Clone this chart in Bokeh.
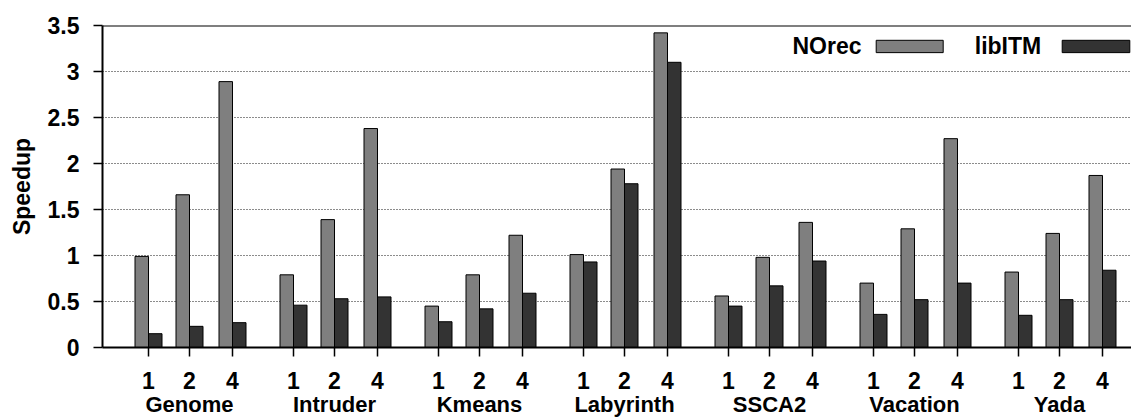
from bokeh.plotting import figure
from bokeh.models import (ColumnDataSource, FixedTicker, LinearAxis, Range1d, Span,
                          NumeralTickFormatter)
from bokeh.core.properties import value
from bokeh.embed import file_html
from bokeh.resources import INLINE

# ---------------- data ----------------
benchmarks = ["Genome", "Intruder", "Kmeans", "Labyrinth", "SSCA2", "Vacation", "Yada"]
threads = [1, 2, 4]
norec = [0.99, 1.66, 2.89,
         0.79, 1.39, 2.38,
         0.45, 0.79, 1.22,
         1.01, 1.94, 3.42,
         0.56, 0.98, 1.36,
         0.70, 1.29, 2.27,
         0.82, 1.24, 1.87]
libitm = [0.15, 0.23, 0.27,
          0.46, 0.53, 0.55,
          0.28, 0.42, 0.59,
          0.93, 1.78, 3.10,
          0.45, 0.67, 0.94,
          0.36, 0.52, 0.70,
          0.35, 0.52, 0.84]
series_names = ["NOrec", "libITM"]
series_colors = ["#7f7f7f", "#333333"]
y_ticks = [0, 0.5, 1, 1.5, 2, 2.5, 3, 3.5]
y_tick_labels = ["0", "0.5", "1", "1.5", "2", "2.5", "3", "3.5"]

# ---------------- layout ----------------
FONT = "Liberation Sans"
FS = "23px"
GROUP_FS = "22px"
GROUP_PITCH = 145
THREAD_OFFSETS = {1: 0, 2: 41, 4: 84}
BAR_W = 13.5

xs = [gi * GROUP_PITCH + THREAD_OFFSETS[t] for gi in range(len(benchmarks)) for t in threads]
tick_labels = {x: str(t) for x, t in zip(xs, threads * len(benchmarks))}
group_centers = [gi * GROUP_PITCH + THREAD_OFFSETS[2] for gi in range(len(benchmarks))]

src = ColumnDataSource(dict(
    x_a=[x - BAR_W / 2 for x in xs],
    x_b=[x + BAR_W / 2 for x in xs],
    norec=norec, libitm=libitm,
))

p = figure(width=1131, height=427, output_backend="svg", toolbar_location=None,
           x_range=Range1d(-46, 983), y_range=Range1d(0, 3.5),
           min_border_left=102, min_border_right=0, min_border_top=25,
           min_border_bottom=80)
p.outline_line_color = None
p.background_fill_color = "white"
p.border_fill_color = "white"

p.vbar(x="x_a", top="norec", width=BAR_W, bottom=0, source=src,
       fill_color=series_colors[0], line_color="black", line_width=1)
p.vbar(x="x_b", top="libitm", width=BAR_W, bottom=0, source=src,
       fill_color=series_colors[1], line_color="black", line_width=1)

# grid
p.xgrid.visible = False
p.ygrid.ticker = FixedTicker(ticks=y_ticks)
p.ygrid.grid_line_color = "black"
p.ygrid.grid_line_dash = "1 2"
p.ygrid.grid_line_width = 1
p.ygrid.grid_line_alpha = 0.9

# top border
p.add_layout(Span(location=3.5, dimension="width", line_color="black", line_width=2))

# y axis
ya = p.yaxis[0]
ya.ticker = FixedTicker(ticks=y_ticks)
ya.formatter = NumeralTickFormatter(format="0.[0]")
ya.major_label_overrides = {t: l for t, l in zip(y_ticks, y_tick_labels)}
ya.minor_tick_line_color = None
ya.major_tick_in = 0
ya.major_tick_out = 9
ya.major_tick_line_width = 1.5
ya.axis_line_width = 2
ya.axis_line_color = "black"
ya.major_label_standoff = 14
ya.major_label_text_font = FONT
ya.major_label_text_font_style = "bold"
ya.major_label_text_font_size = FS
ya.major_label_text_color = "black"
ya.axis_label = "Speedup"
ya.axis_label_text_font = FONT
ya.axis_label_text_font_style = "bold"
ya.axis_label_text_font_size = FS
ya.axis_label_text_color = "black"
ya.axis_label_standoff = 10

# x axis (thread counts)
xa = p.xaxis[0]
xa.ticker = FixedTicker(ticks=xs)
xa.major_label_overrides = tick_labels
xa.minor_tick_line_color = None
xa.major_tick_in = 0
xa.major_tick_out = 9
xa.major_tick_line_width = 1.5
xa.axis_line_width = 2
xa.axis_line_color = "black"
xa.major_label_standoff = 15
xa.major_label_text_font = FONT
xa.major_label_text_font_style = "bold"
xa.major_label_text_font_size = FS
xa.major_label_text_color = "black"

# x axis (benchmark names)
ga = LinearAxis(ticker=FixedTicker(ticks=group_centers),
                major_label_overrides={c: b for c, b in zip(group_centers, benchmarks)})
ga.axis_line_color = None
ga.major_tick_line_color = None
ga.minor_tick_line_color = None
ga.major_tick_in = 0
ga.major_tick_out = 0
ga.major_label_standoff = 0
ga.major_label_text_font = FONT
ga.major_label_text_font_style = "bold"
ga.major_label_text_font_size = GROUP_FS
ga.major_label_text_color = "black"
p.add_layout(ga, "below")

# legend (label first, then swatch) -- positions in axis units
leg_y = 3.272
leg_h = 0.134
leg_text_right = [713, 892.7]
leg_sw_left = [727.7, 913.7]
leg_sw_right = [794.7, 981.3]
p.text(x=leg_text_right, y=[leg_y, leg_y], text=series_names,
       text_font=value(FONT), text_font_style="bold", text_font_size=FS,
       text_align="right", text_baseline="middle", text_color="black")
p.quad(left=leg_sw_left, right=leg_sw_right,
       bottom=[leg_y - leg_h / 2] * 2, top=[leg_y + leg_h / 2] * 2,
       fill_color=series_colors, line_color="black", line_width=1)

open("out.html", "w").write(file_html(p, INLINE))
